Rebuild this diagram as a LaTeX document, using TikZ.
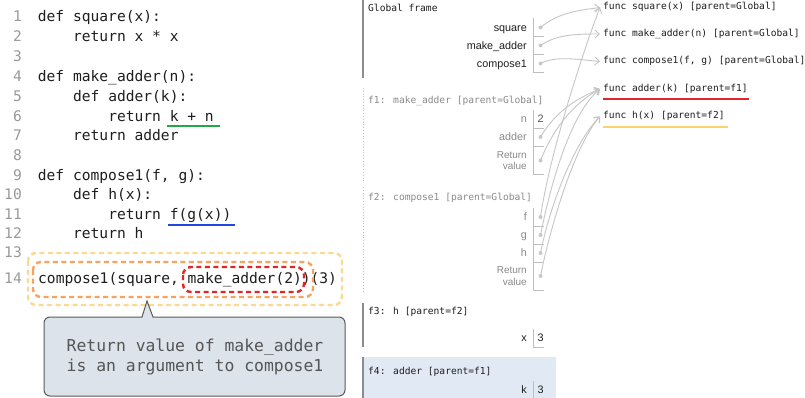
\documentclass[tikz,border=0pt]{standalone}
\usepackage{fontspec}
\setmainfont{Liberation Sans}
\newfontfamily\codefont{DejaVu Sans Mono}
\usetikzlibrary{arrows.meta}
\definecolor{numgray}{HTML}{9A9A9A}
\definecolor{codeblack}{HTML}{1E1E1E}
\definecolor{ptrgray}{HTML}{C6C6C6}
\definecolor{boxgray}{HTML}{BEBEBE}
\definecolor{dotgray}{HTML}{C8C8C8}
\definecolor{inactive}{HTML}{8A8A8A}
\definecolor{bargray}{HTML}{8C8C8C}
\definecolor{ugreen}{HTML}{22A845}
\definecolor{ublue}{HTML}{2246E0}
\definecolor{ured}{HTML}{E02626}
\definecolor{uyellow}{HTML}{FAD36E}
\definecolor{paleorange}{HTML}{FDD890}
\definecolor{midorange}{HTML}{F6A35E}
\definecolor{calloutfill}{HTML}{DCE3EA}
\definecolor{calloutdraw}{HTML}{5A5A5A}
\definecolor{callouttext}{HTML}{555555}
\definecolor{fourfill}{HTML}{E1EAF4}
\tikzset{
  valbox/.pic={\draw[boxgray, line width=0.8pt] (0,-9) -- (0,9) -- (11,9);},
  retbox/.pic={\draw[boxgray, line width=0.8pt] (0,-14) -- (0,14) -- (11,14);}
}
\begin{document}
\begin{tikzpicture}[x=1pt,y=-1pt,
  lnum/.style={anchor=base east, inner sep=0pt, text=numgray, font=\codefont\fontsize{14.6}{17}\selectfont},
  code/.style={anchor=base west, inner sep=0pt, text=codeblack, font=\codefont\fontsize{14.6}{17}\selectfont},
  ftitle/.style={anchor=base west, inner sep=0pt, font=\codefont\fontsize{9.6}{11}\selectfont},
  vname/.style={anchor=base east, inner sep=0pt, font=\fontsize{10.8}{12}\selectfont},
  retname/.style={anchor=east, inner sep=0pt, align=right, text=inactive, font=\fontsize{10}{11.5}\selectfont},
  vval/.style={anchor=base west, inner sep=0pt, font=\fontsize{10.8}{12}\selectfont},
  dot/.style={circle, fill=dotgray, inner sep=0pt, minimum size=4pt},
  funcl/.style={anchor=west, inner xsep=3pt, inner ysep=0pt, text height=7pt, text depth=2pt, text=codeblack, font=\codefont\fontsize{9.6}{11}\selectfont},
  ptr/.style={draw=ptrgray, line width=0.9pt, -{Straight Barb[length=4.5pt,width=8pt]}},
  uline/.style={line width=2pt},
  dbox/.style={dash pattern=on 5pt off 3.5pt, line width=2.4pt, rounded corners=8pt},
  callout/.style={fill=calloutfill, draw=calloutdraw, line width=1pt}
]
\fill[white] (0,0) rectangle (805,398);
\useasboundingbox (0,0) rectangle (805,398);

% ---------- code ----------
\node[lnum] (n1) at (22,21.5) {1};
\node[lnum] (n2) at (22,41.5) {2};
\node[lnum] (n3) at (22,61.5) {3};
\node[lnum] (n4) at (22,81.5) {4};
\node[lnum] (n5) at (22,101.5) {5};
\node[lnum] (n6) at (22,121.5) {6};
\node[lnum] (n7) at (22,141) {7};
\node[lnum] (n8) at (22,160.5) {8};
\node[lnum] (n9) at (22,180.5) {9};
\node[lnum] (n10) at (22,199.5) {10};
\node[lnum] (n11) at (22,219) {11};
\node[lnum] (n12) at (22,238.5) {12};
\node[lnum] (n13) at (22,257.5) {13};
\node[lnum] (n14) at (22,283.5) {14};

\node[code] (c1) at (37.7,21.5) {def square(x):};
\node[code] (c2) at (72.9,41.5) {return x * x};
\node[code] (c4) at (37.7,81.5) {def make\_adder(n):};
\node[code] (c5) at (72.9,101.5) {def adder(k):};
\node[code] (c6) at (108.1,121.5) {return k + n};
\node[code] (c7) at (72.9,141) {return adder};
\node[code] (c9) at (37.7,180.5) {def compose1(f, g):};
\node[code] (c10) at (72.9,199.5) {def h(x):};
\node[code] (c11) at (108.1,219) {return f(g(x))};
\node[code] (c12) at (72.9,238.5) {return h};
\node[code] (c14) at (38,283.5) {compose1(square, make\_adder(2))(3)};

\draw[uline, ugreen] (167,125.7) -- (220,125.7);
\draw[uline, ublue] (168,225) -- (235,225);

\draw[dbox, paleorange] (28,253) rectangle (342,305);
\draw[dbox, midorange] (33,262) rectangle (313,297);
\draw[dbox, ured] (183,267) rectangle (304,292);

% ---------- callout ----------
\path[callout] (147,301) -- (153,317) -- (200,317) [rounded corners=6pt] -- (345,317) -- (345,396) -- (44,396) -- (44,317) -- (100,317) [sharp corners] -- (142,317) -- cycle;
\node[align=center, inner sep=0pt, text=callouttext, font=\codefont\fontsize{16.4}{20}\selectfont] (ctext) at (195,357) {Return value of make\_adder\\is an argument to compose1};

% ---------- frames ----------
\draw[bargray, line width=2.5pt] (363,0) -- (363,78);
\node[ftitle, text=codeblack] (tg) at (368,11.2) {Global frame};
\node[vname, text=codeblack] (lsq) at (527,31.8) {square};
\node[vname, text=codeblack] (lma) at (527,49.8) {make\_adder};
\node[vname, text=codeblack] (lco) at (527,67.8) {compose1};
\pic at (533,27.5) {valbox};
\pic at (533,45.5) {valbox};
\pic at (533,63.5) {valbox};
\node[dot] (gsq) at (540.5,27.5) {};
\node[dot] (gma) at (540.5,45.5) {};
\node[dot] (gco) at (540.5,63.5) {};

\draw[boxgray, line width=0.8pt, dotted] (363,88) -- (363,183);
\node[ftitle, text=inactive] (t1) at (368,103.2) {f1: make\_adder [parent=Global]};
\node[vname, text=inactive] (ln) at (527,122.8) {n};
\node[vname, text=inactive] (lad) at (527,140.8) {adder};
\node[retname] (lr1) at (527,160.5) {Return\\value};
\pic at (533,119) {valbox};
\pic at (533,137) {valbox};
\pic at (533,160.5) {retbox};
\node[vval, text=callouttext] (vn) at (537.5,122.8) {2};
\node[dot] (f1ad) at (540.5,137) {};
\node[dot] (f1rv) at (540.5,160.5) {};

\draw[boxgray, line width=0.8pt, dotted] (363,187) -- (363,293);
\node[ftitle, text=inactive] (t2) at (368,200.2) {f2: compose1 [parent=Global]};
\node[vname, text=inactive] (lf) at (527,220.8) {f};
\node[vname, text=inactive] (lgg) at (527,238.8) {g};
\node[vname, text=inactive] (lh) at (527,256.8) {h};
\node[retname] (lr2) at (527,276) {Return\\value};
\pic at (533,217) {valbox};
\pic at (533,235) {valbox};
\pic at (533,253) {valbox};
\pic at (533,276) {retbox};
\node[dot] (f2f) at (540.5,217) {};
\node[dot] (f2g) at (540.5,235) {};
\node[dot] (f2h) at (540.5,253) {};
\node[dot] (f2rv) at (540.5,276) {};

\draw[bargray, line width=2.5pt] (363,303) -- (363,347);
\node[ftitle, text=codeblack] (t3) at (368,314.2) {f3: h [parent=f2]};
\node[vname, text=codeblack] (lx) at (527,341.8) {x};
\pic at (533,338) {valbox};
\node[vval, text=codeblack] (vx) at (537.5,341.8) {3};

\fill[fourfill] (363,357) rectangle (556,398);
\draw[bargray, line width=2.5pt] (363,357) -- (363,398);
\node[ftitle, text=codeblack] (t4) at (368,374.2) {f4: adder [parent=f1]};
\node[vname, text=codeblack] (lk) at (527,393.8) {k};
\pic at (533,390) {valbox};
\node[vval, text=codeblack] (vk) at (537.5,393.8) {3};

% ---------- function objects ----------
\node[funcl] (fsq) at (600,7.5) {func square(x) [parent=Global]};
\node[funcl] (fma) at (600,34) {func make\_adder(n) [parent=Global]};
\node[funcl] (fco) at (600,61.5) {func compose1(f, g) [parent=Global]};
\node[funcl] (fad) at (600,89) {func adder(k) [parent=f1]};
\node[funcl] (fh) at (600,116.5) {func h(x) [parent=f2]};
\draw[uline, ured] (603,99) -- (749,99);
\draw[uline, uyellow] (603,127) -- (728,127);

% ---------- pointers ----------
\draw[ptr] (gsq.center) .. controls +(18,-15) and +(-22,3) .. (fsq.west);
\draw[ptr] (gma.center) .. controls +(16,-11) and +(-25,0) .. (fma.west);
\draw[ptr] (gco.center) .. controls +(15,-8) and +(-22,-2) .. (fco.west);
\draw[ptr] (f1ad.center) .. controls +(15,-25) and +(-25,10) .. (fad.west);
\draw[ptr] (f1rv.center) .. controls +(12,-30) and +(-28,15) .. (fad.west);
\draw[ptr] (f2f.center) .. controls +(10,-70) and +(-10,25) .. (fsq.west);
\draw[ptr] (f2g.center) .. controls +(10,-50) and +(-30,25) .. (fad.west);
\draw[ptr] (f2h.center) .. controls +(10,-50) and +(-25,25) .. (fh.west);
\draw[ptr] (f2rv.center) .. controls +(10,-50) and +(-25,28) .. (fh.west);
\end{tikzpicture}
\end{document}
